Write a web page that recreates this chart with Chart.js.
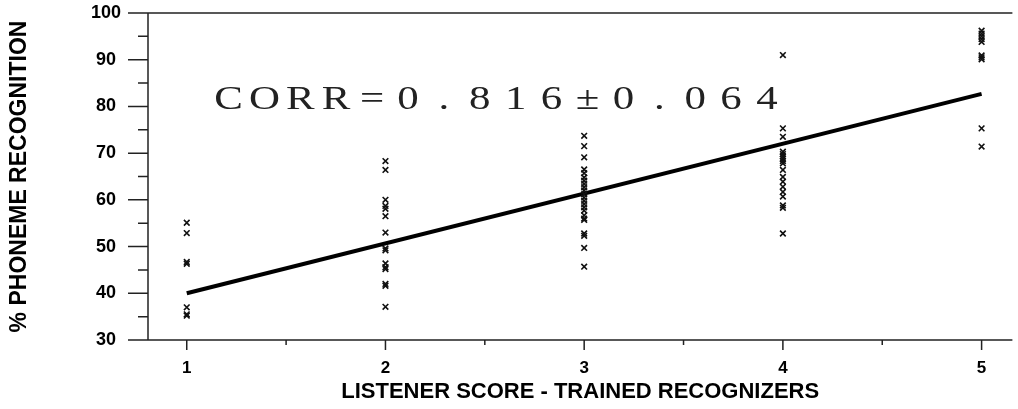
<!DOCTYPE html>
<html>
<head>
<meta charset="utf-8">
<script src="https://cdn.jsdelivr.net/npm/chart.js"></script>
<style>
  html, body { margin: 0; padding: 0; background: #fff; }
  #wrap { width: 1018px; height: 409px; }
</style>
</head>
<body>
<div id="wrap"><canvas id="chart"></canvas></div>
<script>
const SCORES = [1, 2, 3, 4, 5];
const RECOG_1 = [55.1, 52.9, 46.7, 46.3, 37.0, 35.5, 35.2];
const RECOG_2 = [68.3, 66.4, 60.0, 58.7, 58.1, 56.5, 53.0, 49.6, 49.2, 46.4, 45.6, 45.2, 42.0, 41.6, 37.1];
const RECOG_3 = [73.7, 71.5, 69.1, 66.5, 65.7, 64.8, 64.1, 63.4, 62.7, 62.0, 61.2, 60.5, 59.8, 59.1, 58.4,
                 57.7, 56.7, 56.0, 55.7, 52.8, 52.3, 49.7, 45.7];
const RECOG_4 = [91.0, 75.3, 73.5, 70.3, 69.8, 69.3, 68.8, 68.3, 67.8, 66.4, 64.9, 63.9, 62.8, 61.7, 60.7,
                 58.8, 58.3, 52.8];
const RECOG_5 = [96.2, 95.6, 95.0, 94.4, 93.8, 90.9, 90.5, 90.1, 75.3, 71.4];

// regression line end points
const FIT_X = [1, 5];
const FIT_Y = [40.0, 82.7];

const X_TICKS = [1, 2, 3, 4, 5];
const X_MINOR = [1.5, 2.5, 3.5, 4.5];
const Y_TICKS = [30, 40, 50, 60, 70, 80, 90, 100];
const Y_MINOR = [35, 45, 55, 65, 75, 85, 95];

const CORR_LABEL = 'CORR=0.816\u00b10.064';
const CORR_POS = { x0: 1.21, x1: 3.92, y: 79.4 };

const AXIS_FONT = '"Liberation Sans", Arial, sans-serif';
const INK = '#111';

const columns = [RECOG_1, RECOG_2, RECOG_3, RECOG_4, RECOG_5];
const points = [];
columns.forEach((vals, i) => vals.forEach(v => points.push({ x: SCORES[i], y: v })));

const fitLine = FIT_X.map((x, i) => ({ x, y: FIT_Y[i] }));

// axis frame, tick marks and the correlation label
const framePlugin = {
    id: 'frame',
    afterDatasetsDraw(chart) {
        const { ctx, chartArea: a, scales: { x, y } } = chart;
        ctx.save();
        ctx.strokeStyle = '#222';
        ctx.lineWidth = 1.5;
        ctx.beginPath();
        [100, 30].forEach(v => {
            const py = y.getPixelForValue(v);
            ctx.moveTo(a.left - 20, py); ctx.lineTo(a.right, py);
        });
        ctx.moveTo(a.left, a.top); ctx.lineTo(a.left, a.bottom);
        Y_TICKS.forEach(v => {
            const py = y.getPixelForValue(v);
            ctx.moveTo(a.left - 20, py); ctx.lineTo(a.left, py);
        });
        Y_MINOR.forEach(v => {
            const py = y.getPixelForValue(v);
            ctx.moveTo(a.left - 10, py); ctx.lineTo(a.left, py);
        });
        X_TICKS.forEach(v => {
            const px = x.getPixelForValue(v);
            ctx.moveTo(px, a.bottom); ctx.lineTo(px, a.bottom + 10);
        });
        X_MINOR.forEach(v => {
            const px = x.getPixelForValue(v);
            ctx.moveTo(px, a.bottom); ctx.lineTo(px, a.bottom + 5);
        });
        ctx.stroke();

        // wide serif label, one glyph per cell
        const chars = [...CORR_LABEL];
        const left = x.getPixelForValue(CORR_POS.x0);
        const right = x.getPixelForValue(CORR_POS.x1);
        const step = (right - left) / (chars.length - 1);
        const base = y.getPixelForValue(CORR_POS.y);
        ctx.fillStyle = '#222';
        ctx.font = '33px "Liberation Serif", "Times New Roman", serif';
        ctx.textAlign = 'center';
        ctx.textBaseline = 'alphabetic';
        chars.forEach((ch, i) => {
            ctx.save();
            ctx.translate(left + i * step, base);
            ctx.scale(1.3, 1);
            ctx.fillText(ch, 0, 0);
            ctx.restore();
        });
        ctx.restore();
    }
};

new Chart(document.getElementById('chart'), {
    type: 'scatter',
    data: {
        datasets: [{
            data: points,
            pointStyle: 'crossRot',
            pointRadius: 4,
            borderWidth: 1.6,
            borderColor: INK,
            backgroundColor: INK
        }, {
            type: 'line',
            data: fitLine,
            borderColor: '#000',
            borderWidth: 4,
            pointRadius: 0,
            fill: false
        }]
    },
    options: {
        responsive: true, maintainAspectRatio: false, animation: false,
        layout: { padding: { top: 13, right: 0, left: 0, bottom: 0 } },
        plugins: { legend: { display: false }, tooltip: { enabled: false } },
        scales: {
            x: {
                type: 'linear', min: 0.805, max: 5.155,
                afterBuildTicks: s => { s.ticks = X_TICKS.map(v => ({ value: v })); },
                afterFit: s => { s.height = 69; s.paddingLeft = 0; s.paddingRight = 0; },
                grid: { display: false, drawTicks: false },
                border: { display: false },
                ticks: { color: '#000', padding: 18, font: { family: AXIS_FONT, size: 17, weight: 'bold' } },
                title: {
                    display: true, text: 'LISTENER SCORE - TRAINED RECOGNIZERS', color: '#000',
                    padding: { top: 0, bottom: 4 },
                    font: { family: AXIS_FONT, size: 22, weight: 'bold' }
                }
            },
            y: {
                min: 30, max: 100,
                afterBuildTicks: s => { s.ticks = Y_TICKS.map(v => ({ value: v })); },
                afterFit: s => { s.width = 148; s.paddingTop = 0; s.paddingBottom = 0; },
                grid: { display: false, drawTicks: false },
                border: { display: false },
                ticks: { color: '#000', padding: 27, crossAlign: 'center', font: { family: AXIS_FONT, size: 18, weight: 'bold' } },
                title: {
                    display: true, text: '% PHONEME RECOGNITION', color: '#000',
                    padding: { top: 6, bottom: 0 },
                    font: { family: AXIS_FONT, size: 23, weight: 'bold' }
                }
            }
        }
    },
    plugins: [framePlugin]
});
</script>
</body>
</html>
